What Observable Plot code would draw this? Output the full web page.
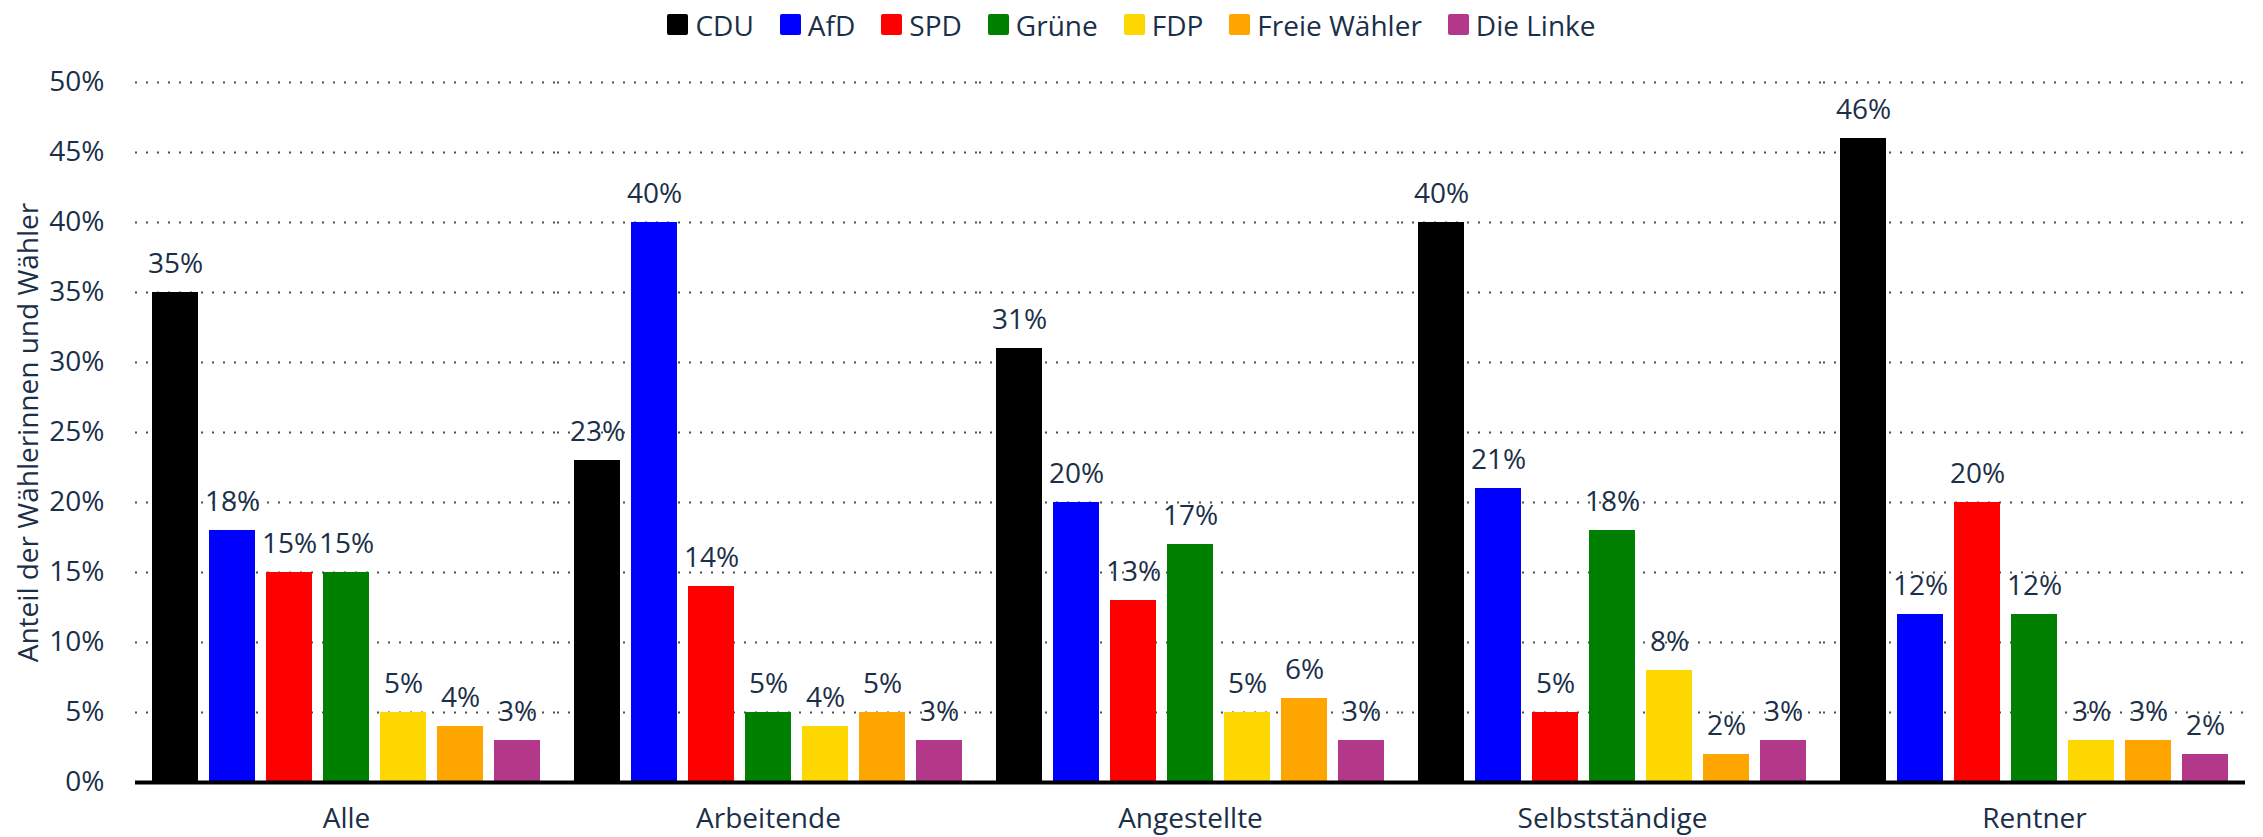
<!DOCTYPE html>
<html>
<head>
<meta charset="utf-8">
<script src="https://cdn.jsdelivr.net/npm/d3@7"></script>
<script src="https://cdn.jsdelivr.net/npm/@observablehq/plot@0.6"></script>
<style>
  html, body { margin: 0; padding: 0; background: #fff; }
  body { font-family: "Open Sans", sans-serif; color: #1b2f48; width: 2263px; }
  #legend { height: 46px; display: flex; justify-content: center; align-items: center; font-size: 28px; padding-top: 3px; box-sizing: border-box; }
  .item { display: flex; align-items: center; margin: 0 13px; }
  .sw { width: 21px; height: 21px; border-radius: 2px; margin-right: 7px; }
</style>
</head>
<body>
<div id="legend"></div>
<div id="chart"></div>
<script>
const groups = ["Alle", "Arbeitende", "Angestellte", "Selbstständige", "Rentner"];
const parties = ["CDU", "AfD", "SPD", "Grüne", "FDP", "Freie Wähler", "Die Linke"];
const partyColors = ["#000000", "#0000ff", "#ff0000", "#008000", "#ffd700", "#ffa500", "#b3388a"];
const alle = [35, 18, 15, 15, 5, 4, 3];
const arbeitende = [23, 40, 14, 5, 4, 5, 3];
const angestellte = [31, 20, 13, 17, 5, 6, 3];
const selbststaendige = [40, 21, 5, 18, 8, 2, 3];
const rentner = [46, 12, 20, 12, 3, 3, 2];
const yTicks = [0, 5, 10, 15, 20, 25, 30, 35, 40, 45, 50];
const yLabel = "Anteil der Wählerinnen und Wähler";

const seriesByGroup = [alle, arbeitende, angestellte, selbststaendige, rentner];
const data = [];
groups.forEach((g, gi) => parties.forEach((p, pi) => data.push({group: g, party: p, value: seriesByGroup[gi][pi]})));

const textColor = "#1b2f48";

// legend
const legend = document.getElementById("legend");
parties.forEach((p, i) => {
  const it = document.createElement("div");
  it.className = "item";
  const sw = document.createElement("div");
  sw.className = "sw";
  sw.style.background = partyColors[i];
  const t = document.createElement("span");
  t.textContent = p;
  it.appendChild(sw); it.appendChild(t);
  legend.appendChild(it);
});

const chart = Plot.plot({
  width: 2263,
  height: 791,
  marginLeft: 133,
  marginRight: 16,
  marginTop: 36,
  marginBottom: 55,
  style: {fontFamily: "Open Sans", color: textColor, background: "#fff", overflow: "visible"},
  fx: {domain: groups, padding: 0},
  x: {domain: parties, paddingInner: 0.2, paddingOuter: 0.265, axis: null},
  y: {domain: [0, 50]},
  color: {domain: parties, range: partyColors},
  marks: [
    Plot.gridY(yTicks.filter(d => d > 0), {stroke: "#333", strokeOpacity: 0.85, strokeWidth: 2, strokeDasharray: "2,9"}),
    Plot.barY(data, {fx: "group", x: "party", y: "value", fill: "party"}),
    Plot.ruleY([0], {stroke: "#000", strokeWidth: 4}),
    Plot.text(data, {fx: "group", x: "party", y: "value", text: d => d.value + "%", dy: -28, fontSize: 28, fill: textColor}),
    Plot.axisY(yTicks, {tickSize: 0, tickPadding: 31, tickFormat: d => d + "%", fontSize: 28, label: yLabel, labelAnchor: "center", labelArrow: "none", labelOffset: 117}),
    Plot.axisFx({anchor: "bottom", tickSize: 0, tickPadding: 26, fontSize: 28, label: null})
  ]
});
document.getElementById("chart").appendChild(chart);
</script>
</body>
</html>
